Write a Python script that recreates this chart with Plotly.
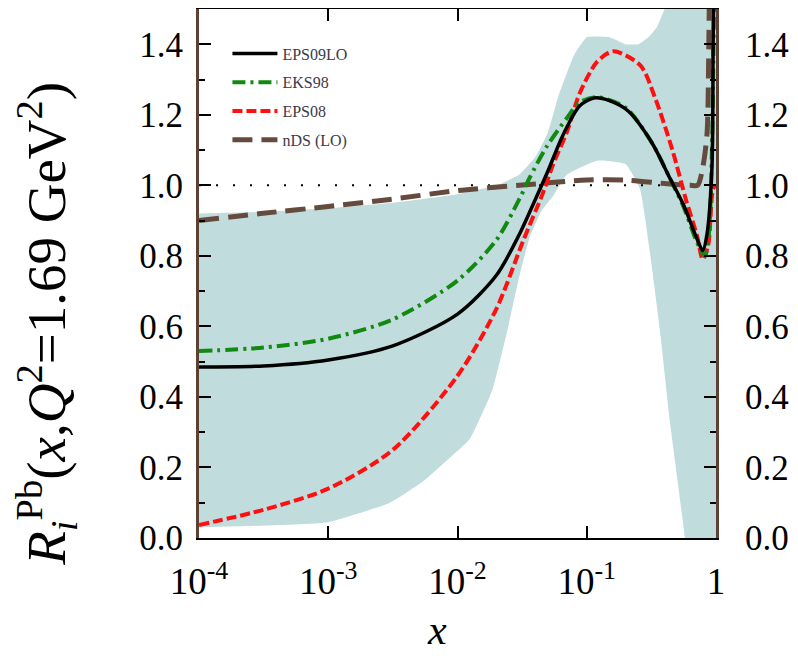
import plotly.graph_objects as go

# ---------------- data ----------------
eps09_x = [1e-4, 3.16e-4, 1e-3, 3.16e-3, 1e-2, 0.02, 0.03, 0.04, 0.05, 0.065, 0.088, 0.115, 0.15, 0.21, 0.32, 0.44, 0.56, 0.71, 0.79, 0.85, 0.93, 0.95, 0.97]
eps09_y = [0.485, 0.488, 0.505, 0.545, 0.635, 0.745, 0.86, 0.96, 1.04, 1.14, 1.225, 1.248, 1.24, 1.21, 1.12, 1.02, 0.945, 0.85, 0.815, 0.86, 1.05, 1.40, 1.70]

eks98_x = [1e-4, 3.16e-4, 1e-3, 3.16e-3, 1e-2, 0.02, 0.03, 0.036, 0.049, 0.07, 0.088, 0.12, 0.2, 0.32, 0.44, 0.56, 0.71, 0.82, 0.88, 0.93, 0.97]
eks98_y = [0.53, 0.54, 0.565, 0.62, 0.73, 0.845, 0.96, 1.02, 1.11, 1.19, 1.235, 1.25, 1.22, 1.12, 1.02, 0.94, 0.84, 0.80, 0.86, 1.10, 1.60]

eps08_x = [1e-4, 3.16e-4, 1e-3, 3.16e-3, 1e-2, 0.02, 0.032, 0.046, 0.055, 0.07, 0.088, 0.12, 0.16, 0.26, 0.34, 0.46, 0.59, 0.71, 0.79, 0.87, 0.95, 1.0]
eps08_y = [0.037, 0.08, 0.14, 0.25, 0.46, 0.65, 0.84, 0.98, 1.06, 1.15, 1.26, 1.35, 1.38, 1.34, 1.245, 1.10, 0.955, 0.86, 0.79, 0.83, 0.99, 1.0]

nds_x = [1e-4, 3e-4, 1e-3, 3e-3, 1e-2, 0.03, 0.1, 0.2, 0.4, 0.63, 0.72, 0.78, 0.85, 0.88, 0.9]
nds_y = [0.90, 0.92, 0.94, 0.96, 0.985, 1.0, 1.015, 1.015, 1.005, 1.0, 1.0, 1.04, 1.14, 1.4, 1.8]

band_up_x = [1e-4, 3e-4, 1e-3, 3e-3, 1e-2, 0.02, 0.03, 0.04, 0.05, 0.06, 0.08, 0.1, 0.15, 0.2, 0.25, 0.3, 0.35, 0.4, 0.5, 0.7, 1.0]
band_up_y = [0.92, 0.925, 0.935, 0.95, 0.975, 1.0, 1.03, 1.08, 1.15, 1.25, 1.37, 1.42, 1.42, 1.40, 1.40, 1.42, 1.45, 1.50, 1.62, 2.0, 2.2]
band_lo_x = [1e-4, 3e-4, 1e-3, 3e-3, 5.4e-3, 7.7e-3, 0.0124, 0.0186, 0.024, 0.03, 0.036, 0.045, 0.055, 0.07, 0.12, 0.2, 0.258, 0.308, 0.368, 0.44, 0.575, 0.75, 1.0]
band_lo_y = [0.03, 0.035, 0.045, 0.10, 0.16, 0.21, 0.28, 0.42, 0.58, 0.74, 0.85, 0.93, 0.97, 1.03, 1.07, 1.06, 0.99, 0.81, 0.59, 0.33, 0.0, -0.4, -0.8]

ref_x = [1e-4, 1.0]
ref_y = [1.0, 1.0]

x_tickvals = [1e-4, 1e-3, 1e-2, 1e-1, 1.0]
x_ticktext = ["10<sup>-4</sup>", "10<sup>-3</sup>", "10<sup>-2</sup>", "10<sup>-1</sup>", "1"]

SERIF = "Liberation Serif, Times New Roman, serif"

fig = go.Figure()

# uncertainty band
fig.add_trace(go.Scatter(
    x=band_up_x + band_lo_x[::-1], y=band_up_y + band_lo_y[::-1],
    fill="toself", fillcolor="#c1dcdc",
    line=dict(width=0, color="#c1dcdc", shape="spline", smoothing=0.4),
    mode="lines", showlegend=False, hoverinfo="skip"))

# reference line at 1
fig.add_trace(go.Scatter(x=ref_x, y=ref_y, mode="lines",
                         line=dict(color="black", width=2, dash="2px,15px"),
                         showlegend=False, hoverinfo="skip"))

fig.add_trace(go.Scatter(x=nds_x, y=nds_y, mode="lines", name="nDS (LO)", legendgroup="d", legendrank=4,
                         line=dict(color="#654b3e", width=5, dash="20px,9px", shape="spline", smoothing=0.8)))
fig.add_trace(go.Scatter(x=eps08_x, y=eps08_y, mode="lines", name="EPS08", legendgroup="c", legendrank=3,
                         line=dict(color="#ff1010", width=4, dash="10px,4px", shape="spline", smoothing=0.8)))
fig.add_trace(go.Scatter(x=eks98_x, y=eks98_y, mode="lines", name="EKS98", legendgroup="b", legendrank=2,
                         line=dict(color="#128a12", width=4, dash="13px,5px,3px,5px", shape="spline", smoothing=0.8)))
fig.add_trace(go.Scatter(x=eps09_x, y=eps09_y, mode="lines", name="EPS09LO", legendgroup="a", legendrank=1,
                         line=dict(color="black", width=3.5, shape="spline", smoothing=0.8)))

# invisible trace for right axis labels
fig.add_trace(go.Scatter(x=[1e-4], y=[0], yaxis="y2", mode="markers",
                         marker=dict(opacity=0), showlegend=False, hoverinfo="skip"))

fig.update_layout(
    width=790, height=652,
    margin=dict(l=191, r=82, t=1, b=122),
    paper_bgcolor="white", plot_bgcolor="white",
    font=dict(family=SERIF, color="black"),
    showlegend=True,
    legend=dict(x=0.055, y=0.948, xanchor="left", yanchor="top",
                bgcolor="rgba(0,0,0,0)", traceorder="grouped",
                tracegroupgap=5, itemwidth=45,
                font=dict(family=SERIF, size=16, color="#3a3a48")),
    xaxis=dict(type="log", range=[-4, 0], tickvals=x_tickvals, ticktext=x_ticktext,
               ticks="inside", ticklen=12, tickwidth=1.5, tickcolor="black",
               showline=True, linecolor="black", linewidth=2, mirror="ticks",
               showgrid=False, zeroline=False, automargin=False,
               tickfont=dict(family=SERIF, size=37), ticklabelstandoff=10),
    yaxis=dict(range=[0, 1.5], dtick=0.2, tick0=0, tickformat=".1f",
               ticks="inside", ticklen=12, tickwidth=1.5, tickcolor="black",
               minor=dict(dtick=0.1, ticks="inside", ticklen=6, tickwidth=1.5, tickcolor="black"),
               showline=True, linecolor="#5d4234", linewidth=3, mirror="ticks",
               showgrid=False, zeroline=False, automargin=False,
               tickfont=dict(family=SERIF, size=35), ticklabelstandoff=6),
    yaxis2=dict(range=[0, 1.5], dtick=0.2, tick0=0, tickformat=".1f",
                overlaying="y", side="right", ticks="", showline=False,
                showgrid=False, zeroline=False, automargin=False,
                tickfont=dict(family=SERIF, size=35), ticklabelstandoff=28),
    annotations=[
        dict(text="<i>R</i><sub><i>i</i></sub><sup>Pb</sup>(<i>x</i>,<i>Q</i><sup>2</sup>=1.69 GeV<sup>2</sup>)",
             xref="paper", yref="paper", x=-0.294, y=0.405, xanchor="center", yanchor="middle",
             textangle=-90, showarrow=False, font=dict(family=SERIF, size=55, color="black")),
        dict(text="<i>x</i>", xref="paper", yref="paper", x=0.46, y=-0.174,
             xanchor="center", yanchor="middle", showarrow=False,
             font=dict(family=SERIF, size=42, color="black")),
    ],
)

fig.write_html("out.html")
